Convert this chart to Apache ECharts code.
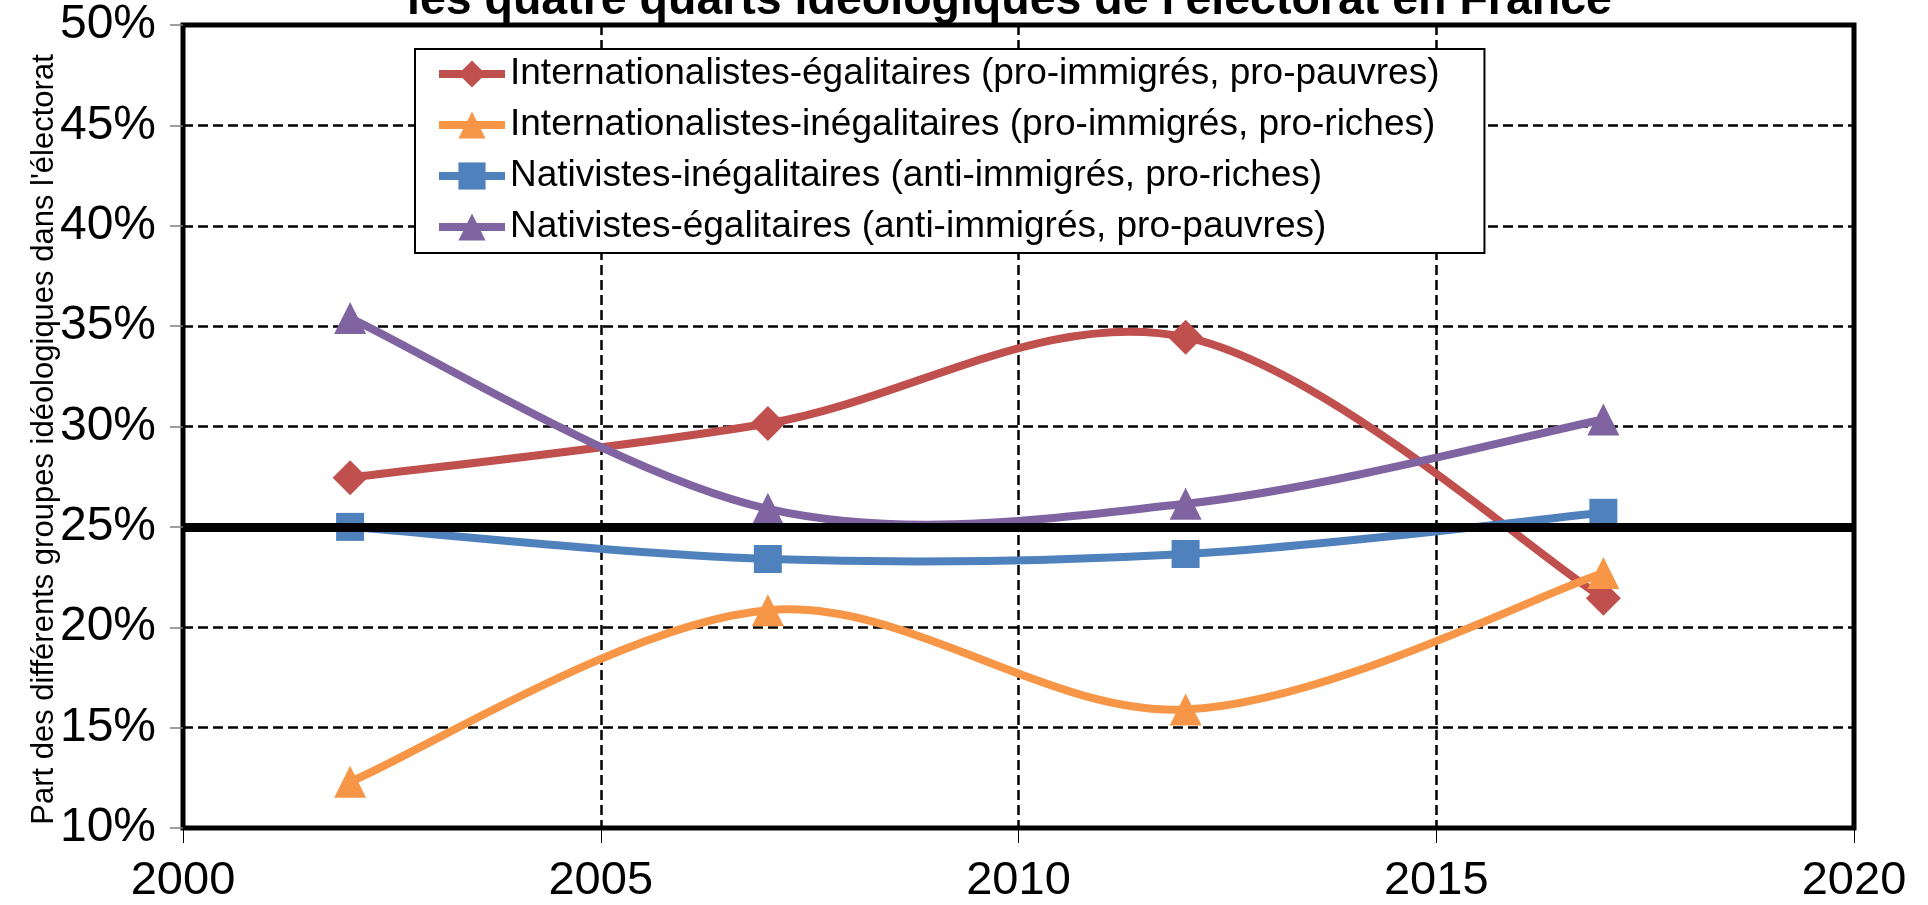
<!DOCTYPE html>
<html>
<head>
<meta charset="utf-8">
<script src="https://cdn.jsdelivr.net/npm/echarts@6/dist/echarts.min.js"></script>
<style>
html,body{margin:0;padding:0;background:#fff;}
#chart{width:1928px;height:905px;}
</style>
</head>
<body>
<div id="chart"></div>
<script>
// ---- Data ----
const years = [2002, 2007, 2012, 2017];
const seriesNames = [
  "Internationalistes-égalitaires (pro-immigrés, pro-pauvres)",
  "Internationalistes-inégalitaires (pro-immigrés, pro-riches)",
  "Nativistes-inégalitaires (anti-immigrés, pro-riches)",
  "Nativistes-égalitaires (anti-immigrés, pro-pauvres)"
];
const intEgal = [27.45, 30.15, 34.45, 21.45];
const intInegal = [12.3, 20.85, 15.9, 22.7];
const natInegal = [25.0, 23.4, 23.65, 25.7];
const natEgal = [35.4, 25.9, 26.15, 30.35];
const refLine = 25;
const titleText = "les quatre quarts idéologiques de l'électorat en France";
const yAxisTitle = "Part des différents groupes idéologiques dans l'électorat";

const colors = ['#C0504D', '#F79646', '#4F81BD', '#8064A2'];
const symbols = ['diamond', 'triangle', 'rect', 'triangle'];
const sizes = [35, 32, 28, 32];
const values = [intEgal, intInegal, natInegal, natEgal];
const FONT = "'Liberation Sans', Arial, sans-serif";
const LINE_W = 8;

const chart = echarts.init(document.getElementById('chart'), null, {renderer: 'canvas'});

// Smooth curve (spreadsheet-style Bezier, tension 1/6) drawn through the axis scales
function smoothCurve(vals, color) {
  return {
    type: 'custom',
    silent: true,
    clip: false,
    z: 2,
    data: years.map((y, j) => [y, vals[j]]),
    encode: {x: 0, y: 1},
    renderItem: function (params, api) {
      if (params.dataIndex !== 0) return null;
      const pts = years.map((y, j) => api.coord([y, vals[j]]));
      const children = [];
      for (let i = 0; i < pts.length - 1; i++) {
        const p0 = pts[i - 1] || pts[i];
        const p1 = pts[i];
        const p2 = pts[i + 1];
        const p3 = pts[i + 2] || pts[i + 1];
        children.push({
          type: 'bezierCurve',
          shape: {
            x1: p1[0], y1: p1[1], x2: p2[0], y2: p2[1],
            cpx1: p1[0] + (p2[0] - p0[0]) / 6,
            cpy1: p1[1] + (p2[1] - p0[1]) / 6,
            cpx2: p2[0] - (p3[0] - p1[0]) / 6,
            cpy2: p2[1] - (p3[1] - p1[1]) / 6
          },
          style: {stroke: color, lineWidth: LINE_W, fill: 'none', lineCap: 'round'}
        });
      }
      return {type: 'group', children: children};
    }
  };
}

const series = [];
values.forEach((vals, i) => series.push(smoothCurve(vals, colors[i])));
values.forEach((vals, i) => series.push({
  name: seriesNames[i],
  type: 'line',
  data: years.map((y, j) => [y, vals[j]]),
  symbol: symbols[i],
  symbolSize: sizes[i],
  showSymbol: true,
  lineStyle: {color: colors[i], width: LINE_W, opacity: 0},
  itemStyle: {color: colors[i], borderWidth: 0},
  z: 3
}));
series.push({
  name: 'ref',
  type: 'line',
  data: [],
  z: 10,
  markLine: {
    silent: true,
    symbol: 'none',
    label: {show: false},
    lineStyle: {color: '#000', width: 9, type: 'solid'},
    data: [{yAxis: refLine}]
  }
});

const option = {
  animation: false,
  backgroundColor: '#fff',
  title: {
    text: titleText,
    left: 407,
    top: -22,
    padding: 0,
    textStyle: {fontFamily: FONT, fontSize: 46.5, fontWeight: 'bold', color: '#000'}
  },
  legend: {
    data: seriesNames,
    orient: 'vertical',
    left: 415,
    top: 49,
    align: 'left',
    itemWidth: 66,
    itemHeight: 34,
    itemGap: 11,
    padding: [5, 45, 6, 20],
    backgroundColor: '#fff',
    borderColor: '#000',
    borderWidth: 2,
    lineStyle: {width: 8, opacity: 1},
    textStyle: {fontFamily: FONT, fontSize: 37, color: '#000', lineHeight: 40},
    z: 20
  },
  grid: {
    left: 183, right: 74, top: 25, bottom: 76,
    show: true, borderColor: '#000', borderWidth: 5, backgroundColor: 'transparent'
  },
  xAxis: {
    type: 'value',
    min: 2000, max: 2020, interval: 5,
    axisLine: {show: false},
    axisTick: {show: true, inside: false, length: 15, lineStyle: {color: '#000', width: 1}},
    axisLabel: {fontFamily: FONT, fontSize: 47, color: '#000', margin: 30, formatter: v => String(v)},
    splitLine: {show: true, lineStyle: {color: '#000', width: 2.5, type: [10, 5]}}
  },
  yAxis: {
    type: 'value',
    min: 10, max: 50, interval: 5,
    name: yAxisTitle,
    nameLocation: 'middle',
    nameGap: 123,
    nameMoveOverlap: false,
    nameTextStyle: {fontFamily: FONT, fontSize: 31, color: '#000', padding: [0, 26, 0, 0]},
    axisLine: {show: false},
    axisTick: {show: true, inside: false, length: 13, lineStyle: {color: '#7f7f7f', width: 1.5}},
    axisLabel: {fontFamily: FONT, fontSize: 48, color: '#000', margin: 27, formatter: '{value}%'},
    splitLine: {show: true, lineStyle: {color: '#000', width: 2.5, type: [10, 5]}}
  },
  series: series
};

chart.setOption(option);
</script>
</body>
</html>
